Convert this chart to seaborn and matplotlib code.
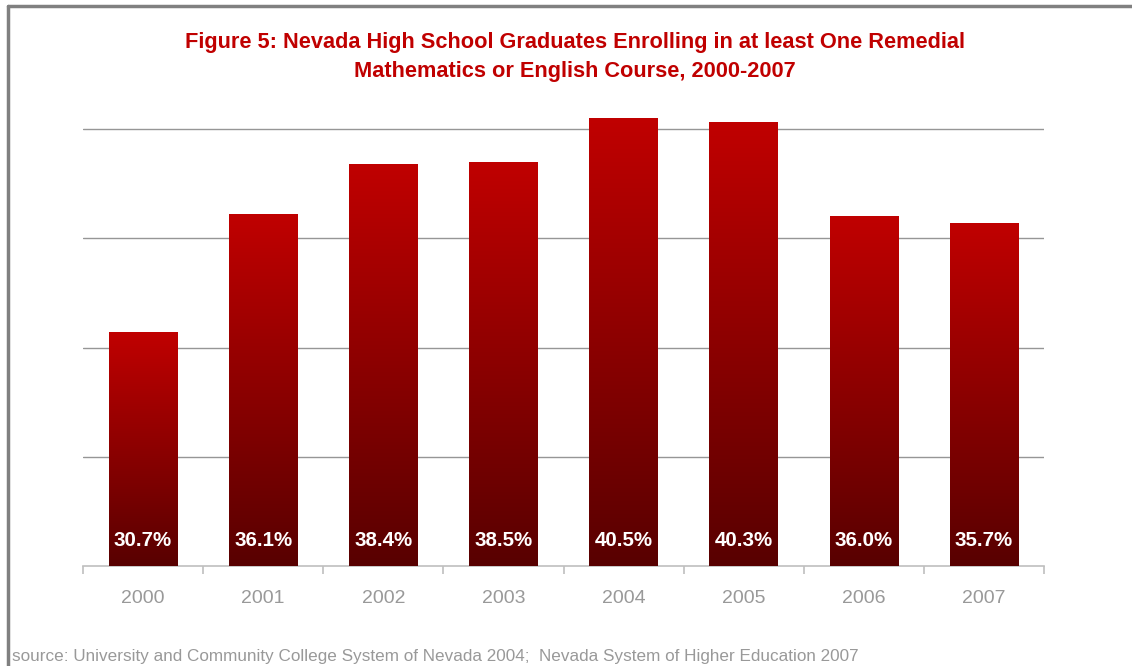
import numpy as np
import pandas as pd
import matplotlib
matplotlib.use('Agg')
import matplotlib.pyplot as plt
import seaborn as sns
from matplotlib.colors import LinearSegmentedColormap
from matplotlib.lines import Line2D

years = ['2000', '2001', '2002', '2003', '2004', '2005', '2006', '2007']
pct = [30.7, 36.1, 38.4, 38.5, 40.5, 40.3, 36.0, 35.7]
labels = ['30.7%', '36.1%', '38.4%', '38.5%', '40.5%', '40.3%', '36.0%', '35.7%']

sns.set_style('white')
plt.rcParams['font.family'] = ['Liberation Sans', 'DejaVu Sans']

fig = plt.figure(figsize=(11.32, 6.66), dpi=100)
ax = fig.add_axes([83/1132, 1-566/666, (1044-83)/1132, 21*21.85/666])

df = pd.DataFrame({'year': years, 'pct': pct})
sns.barplot(data=df, x='year', y='pct', color='#C00000', width=0.57, ax=ax)

# градиент на каждом столбце
cmap = LinearSegmentedColormap.from_list('rd', ['#580000', '#C00000'])
grad = np.linspace(0, 1, 256).reshape(-1, 1)
for p in ax.patches:
    x0, y0 = p.get_x(), p.get_y()
    w, h = p.get_width(), p.get_height()
    im = ax.imshow(grad, cmap=cmap, origin='lower', aspect='auto',
                   extent=[x0, x0 + w, 20, y0 + h], zorder=3)
    im.set_clip_path(p)
    p.set_facecolor('none')
    p.set_edgecolor('none')

ax.set_xlim(-0.5, 7.5)
ax.set_ylim(20, 41)
ax.set_yticks([25, 30, 35, 40])
ax.yaxis.grid(True, color='#969696', lw=1)
ax.set_axisbelow(True)
ax.set_yticklabels([])
ax.tick_params(axis='y', length=0)
for s in ['top', 'right', 'left']:
    ax.spines[s].set_visible(False)
ax.spines['bottom'].set_color('#BFBFBF')
ax.spines['bottom'].set_linewidth(1.2)
ax.set_xlabel('')
ax.set_ylabel('')
ax.tick_params(axis='x', which='major', length=0, pad=17, labelsize=14, labelcolor='#999999')
ax.set_xticks(np.arange(-0.5, 8, 1), minor=True)
ax.tick_params(axis='x', which='minor', bottom=True, length=6, color='#BFBFBF',
               width=1.2, direction='out')

for i, lab in enumerate(labels):
    ax.annotate(lab, (i, 20), xytext=(0, 18.5), textcoords='offset points',
                ha='center', va='center', color='white', fontsize=14.8,
                fontweight='bold', zorder=5)

fig.text(575/1132, 1-57/666,
         'Figure 5: Nevada High School Graduates Enrolling in at least One Remedial\nMathematics or English Course, 2000-2007',
         ha='center', va='center', color='#C00000', fontsize=15.7, fontweight='bold',
         linespacing=1.55)

fig.text(12/1132, 1-657/666,
         'source: University and Community College System of Nevada 2004;  Nevada System of Higher Education 2007',
         ha='left', va='center', color='#999999', fontsize=12.35)

# рамка
fig.add_artist(Line2D([8/1132, 8/1132], [0, 1-6/666], transform=fig.transFigure,
                      color='#808080', lw=2.5))
fig.add_artist(Line2D([8/1132, 1], [1-6/666, 1-6/666], transform=fig.transFigure,
                      color='#808080', lw=2.5))

fig.savefig('out.png', dpi=100)
